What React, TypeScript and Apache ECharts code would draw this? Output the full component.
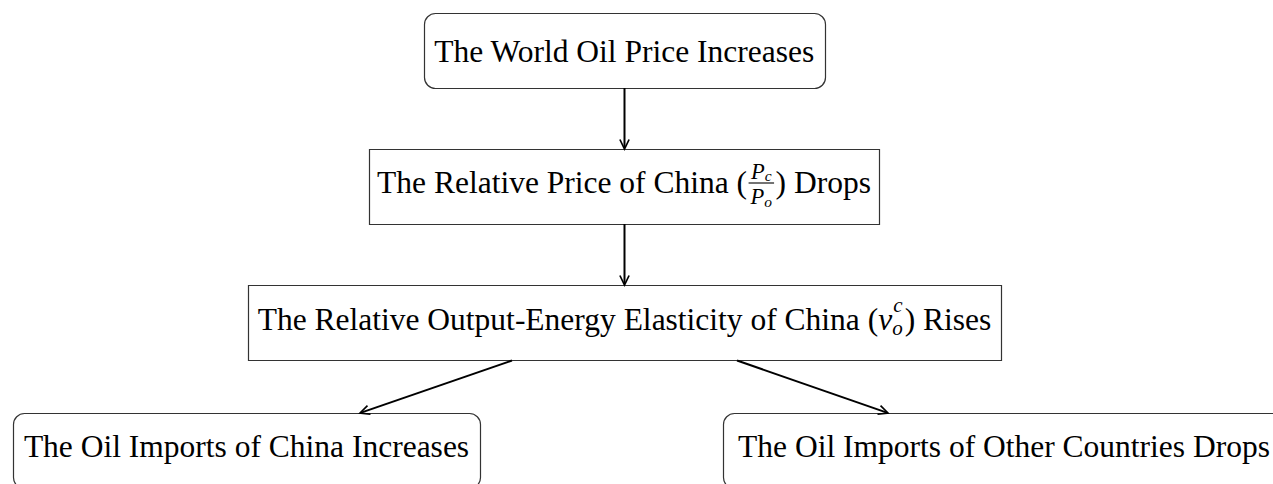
import React, { useEffect, useRef } from "react";
import * as echarts from "echarts";

// Node labels (plain text pieces; math pieces described separately)
const NODE_LABELS: any[][] = [
  [{ t: "The World Oil Price Increases" }],
  [{ t: "The Relative Price of China (" }, { frac: ["P", "c", "P", "o"] }, { t: ") Drops" }],
  [{ t: "The Relative Output-Energy Elasticity of China (" }, { supsub: ["\u03bd", "c", "o"] }, { t: ") Rises" }],
  [{ t: "The Oil Imports of China Increases" }],
  [{ t: "The Oil Imports of Other Countries Drops" }],
];
const NODE_ROUNDED = [true, false, false, true, true];
const EDGES = [
  [0, 1],
  [1, 2],
  [2, 3],
  [2, 4],
];

// layout
const BOXES = [
  { x: 424, y: 13, w: 401, h: 75, base: 62 },
  { x: 369, y: 149, w: 510, h: 75, base: 193 },
  { x: 248, y: 285, w: 753, h: 75, base: 330 },
  { x: 13, y: 413, w: 467, h: 75, base: 457 },
  { x: 723, y: 413, w: 562, h: 75, base: 457 },
];
const EDGE_GEOM = [
  [624.5, 88, 624.5, 149],
  [624.5, 224, 624.5, 285],
  [512, 360.5, 360, 413],
  [737, 360.5, 888, 413],
];

const FAMILY = "'Liberation Serif', 'Times New Roman', serif";
const FS = 31.5;
const CENTRAL = 0.3375; // offset of central baseline above alphabetic baseline (em)

let ctx: CanvasRenderingContext2D | null = null;
function measure(text: string, size: number, italic: boolean) {
  if (!ctx) ctx = document.createElement("canvas").getContext("2d");
  ctx!.font = `${italic ? "italic " : ""}${size}px ${FAMILY}`;
  return ctx!.measureText(text).width;
}

function textEl(text: string, x: number, baseline: number, size: number, italic = false) {
  return {
    type: "text",
    x,
    y: baseline - CENTRAL * size,
    silent: true,
    style: {
      text,
      fontSize: size,
      fontFamily: FAMILY,
      fontStyle: italic ? "italic" : "normal",
      fill: "#000",
      textAlign: "left",
      textVerticalAlign: "middle",
      align: "left",
      verticalAlign: "middle",
    },
  };
}

function buildLabel(pieces: any[], cx: number, base: number) {
  const FR = 22.5; // fraction letter size
  const SS = 15.5; // fraction subscript
  const SC = 21; // script size for sup/sub
  const widths = pieces.map((p) => {
    if (p.t !== undefined) return measure(p.t, FS, false);
    if (p.frac) {
      const wn = measure(p.frac[0], FR, true) + measure(p.frac[1], SS, true);
      const wd = measure(p.frac[2], FR, true) + measure(p.frac[3], SS, true);
      return Math.max(wn, wd) + 7;
    }
    if (p.supsub) {
      return measure(p.supsub[0], FS, true) + 1 + Math.max(measure(p.supsub[1], SC, true), measure(p.supsub[2], SC, true)) + 1;
    }
    return 0;
  });
  const total = widths.reduce((a, b) => a + b, 0);
  let x = cx - total / 2;
  const els: any[] = [];
  pieces.forEach((p, i) => {
    if (p.t !== undefined) {
      els.push(textEl(p.t, x, base, FS));
    } else if (p.frac) {
      const w = widths[i];
      const barY = base - 10;
      const wn = measure(p.frac[0], FR, true) + measure(p.frac[1], SS, true);
      const wd = measure(p.frac[2], FR, true) + measure(p.frac[3], SS, true);
      const nx = x + (w - wn) / 2;
      const dx = x + (w - wd) / 2;
      els.push(textEl(p.frac[0], nx, barY - 4, FR, true));
      els.push(textEl(p.frac[1], nx + measure(p.frac[0], FR, true), barY - 2.6, SS, true));
      els.push(textEl(p.frac[2], dx, barY + 21, FR, true));
      els.push(textEl(p.frac[3], dx + measure(p.frac[2], FR, true), barY + 23.5, SS, true));
      els.push({
        type: "line",
        silent: true,
        shape: { x1: x + 1.5, y1: barY, x2: x + w - 1.5, y2: barY },
        style: { stroke: "#000", lineWidth: 1.1 },
      });
    } else if (p.supsub) {
      els.push(textEl(p.supsub[0], x, base, FS, true));
      const sx = x + measure(p.supsub[0], FS, true) + 1;
      els.push(textEl(p.supsub[1], sx, base - 18, SC, true));
      els.push(textEl(p.supsub[2], sx - 1, base + 5.5, SC, true));
    }
    x += widths[i];
  });
  return els;
}

function arrow(g: number[]) {
  const [x1, y1, x2, y2] = g;
  const len = Math.hypot(x2 - x1, y2 - y1);
  const dx = (x2 - x1) / len;
  const dy = (y2 - y1) / len;
  const nx = -dy;
  const ny = dx;
  const L = 9.5;
  const W = 4.6;
  const bx = x2 - dx * L;
  const by = y2 - dy * L;
  return [
    {
      type: "line",
      silent: true,
      shape: { x1, y1, x2: x2 - dx * 1.2, y2: y2 - dy * 1.2 },
      style: { stroke: "#000", lineWidth: 2 },
    },
    {
      type: "polyline",
      silent: true,
      shape: {
        points: [
          [bx + nx * W, by + ny * W],
          [x2, y2],
          [bx - nx * W, by - ny * W],
        ],
        smooth: 0,
      },
      style: { stroke: "#000", fill: null, lineWidth: 1.7 },
    },
  ];
}

export default function App() {
  const ref = useRef<HTMLDivElement>(null);
  useEffect(() => {
    const chart = echarts.init(ref.current!, null, { renderer: "svg" });
    const elements: any[] = [];
    BOXES.forEach((b, i) => {
      elements.push({
        type: "rect",
        silent: true,
        shape: { x: b.x + 0.5, y: b.y + 0.5, width: b.w, height: b.h, r: NODE_ROUNDED[i] ? 11 : 0 },
        style: { fill: "#fff", stroke: "#333", lineWidth: 1.2 },
      });
    });
    EDGES.forEach((e, i) => {
      elements.push(...arrow(EDGE_GEOM[i]));
    });
    NODE_LABELS.forEach((pieces, i) => {
      const b = BOXES[i];
      elements.push(...buildLabel(pieces, b.x + b.w / 2, b.base));
    });
    chart.setOption({
      animation: false,
      backgroundColor: "#fff",
      graphic: { elements },
    });
    return () => chart.dispose();
  }, []);
  return (
    <div
      ref={ref}
      style={{ position: "fixed", left: 0, top: 0, width: 1273, height: 484, background: "#fff" }}
    />
  );
}
